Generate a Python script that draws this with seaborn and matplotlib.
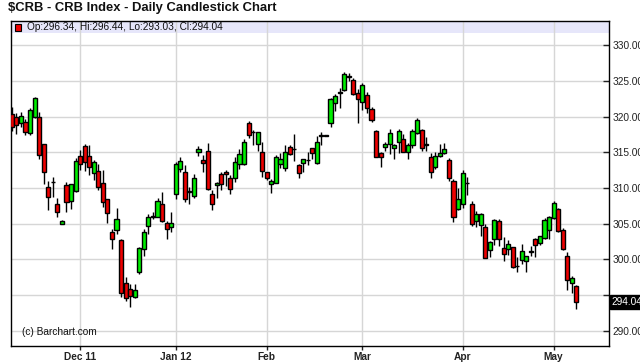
import numpy as np
import pandas as pd
import matplotlib
matplotlib.use("Agg")
import matplotlib.pyplot as plt
import seaborn as sns
from matplotlib.patches import Rectangle

# ---------------- data ----------------
holidays = ["2011-11-24", "2011-12-26", "2012-01-02", "2012-01-16", "2012-04-06"]
dates = pd.bdate_range("2011-11-09", "2012-05-08")
dates = dates[~dates.isin(pd.to_datetime(holidays))]

opens = [320.4, 320.0, 319.1, 319.2, 317.7, 319.9, 320.0, 316.1, 310.2, 310.85,
         307.7, 305.0, 310.4, 308.2, 309.6, 314.45, 315.9, 314.45, 312.1, 312.45,
         310.75, 308.4, 303.8, 304.15, 302.7, 296.7, 295.85, 294.7, 298.2, 301.5,
         304.75, 306.0, 306.0, 307.8, 305.05, 304.6, 309.1, 312.7, 312.2, 309.5,
         308.9, 315.1, 313.9, 315.15, 309.2, 310.4, 311.9, 312.25, 311.45, 311.45,
         313.3, 313.3, 319.05, 317.85, 316.1, 315.1, 312.25, 310.5, 310.75, 313.3,
         312.75, 315.8, 315.4, 313.2, 313.5, 313.9, 315.55, 313.5, 317.35, 317.35,
         319.05, 321.9, 323.35, 323.7, 325.7, 325.1, 323.3, 322.0, 323.05, 321.0,
         318.0, 314.85, 315.7, 316.1, 315.55, 316.4, 316.8, 315.0, 316.0, 317.65,
         318.1, 316.05, 314.35, 312.95, 314.5, 314.85, 313.9, 310.95, 307.0, 307.8,
         310.65, 307.8, 305.45, 304.85, 304.6, 301.35, 302.85, 305.45, 301.65, 301.5,
         301.7, 299.1, 299.9, 299.8, 301.1, 302.85, 302.25, 303.05, 304.15, 305.85,
         307.0, 304.15, 300.45, 296.7, 296.34]
highs = [321.4, 320.5, 320.6, 319.6, 321.2, 322.8, 320.7, 316.2, 311.0, 311.55,
         308.65, 305.5, 310.85, 310.6, 314.2, 315.3, 316.15, 316.0, 313.9, 313.3,
         312.5, 308.5, 304.3, 307.2, 302.9, 297.5, 296.6, 296.5, 301.7, 304.3,
         306.3, 306.6, 308.65, 309.45, 305.45, 306.7, 313.65, 314.35, 313.2, 310.15,
         312.0, 315.9, 314.6, 316.25, 309.7, 310.85, 312.25, 312.5, 311.8, 314.35,
         315.4, 316.85, 319.4, 318.1, 317.85, 316.4, 312.3, 311.3, 314.6, 314.85,
         316.0, 316.0, 317.5, 313.3, 314.0, 315.0, 315.6, 317.25, 317.9, 317.45,
         322.6, 323.1, 324.0, 326.2, 326.1, 325.4, 323.9, 324.75, 323.5, 321.4,
         318.1, 315.05, 316.45, 318.2, 316.2, 318.25, 317.55, 316.25, 318.2, 319.85,
         318.2, 317.2, 314.9, 315.05, 316.1, 316.25, 314.15, 311.2, 310.0, 312.5,
         311.55, 308.25, 306.85, 306.45, 305.0, 302.65, 305.7, 305.7, 303.1, 302.75,
         301.8, 300.3, 302.2, 300.5, 301.95, 303.0, 303.3, 305.85, 306.15, 308.25,
         307.25, 304.45, 301.0, 297.7, 296.44]
lows = [318.0, 317.5, 318.5, 317.4, 317.4, 319.8, 314.0, 310.6, 306.9, 308.7,
        306.0, 304.9, 306.7, 307.1, 309.4, 312.5, 312.35, 311.8, 311.1, 309.7,
        307.3, 305.15, 301.5, 303.6, 294.7, 294.2, 293.4, 294.6, 297.9, 300.55,
        303.6, 305.7, 305.9, 305.2, 302.9, 303.8, 308.4, 312.25, 308.0, 307.7,
        308.6, 314.5, 312.25, 309.7, 306.9, 308.65, 309.7, 310.25, 309.1, 310.85,
        312.6, 313.2, 317.0, 316.0, 315.2, 311.55, 311.1, 309.3, 310.7, 312.75,
        312.35, 314.6, 313.85, 311.4, 312.25, 313.2, 314.1, 313.3, 316.0, 317.3,
        318.6, 320.8, 321.2, 323.6, 325.0, 323.0, 319.05, 320.9, 320.45, 319.3,
        314.3, 313.0, 315.2, 314.7, 314.1, 314.85, 315.0, 314.1, 315.55, 317.5,
        315.15, 315.2, 311.4, 312.6, 314.3, 314.7, 311.0, 305.3, 306.9, 307.2,
        309.0, 304.75, 304.6, 303.35, 300.2, 300.35, 302.05, 301.85, 299.85, 300.6,
        298.75, 298.2, 299.3, 298.2, 300.55, 300.3, 302.0, 302.9, 302.9, 305.7,
        303.9, 301.3, 295.75, 295.35, 293.03]
closes = [318.5, 318.8, 320.15, 317.9, 320.9, 322.6, 314.6, 312.2, 308.7, 310.9,
          306.6, 305.45, 308.0, 310.5, 313.8, 313.3, 313.6, 313.0, 313.6, 310.1,
          308.0, 306.45, 302.9, 305.7, 295.3, 294.6, 294.9, 295.75, 301.6, 303.9,
          305.9, 306.05, 308.2, 305.45, 304.25, 305.05, 313.4, 313.8, 308.5, 309.55,
          311.35, 315.4, 313.55, 309.9, 307.7, 310.75, 310.5, 311.9, 309.9, 313.65,
          314.75, 316.4, 317.4, 317.9, 317.8, 312.35, 311.45, 310.95, 314.3, 314.1,
          315.0, 314.7, 315.45, 312.1, 314.0, 313.95, 314.95, 316.4, 317.4, 317.4,
          322.45, 322.9, 323.4, 325.95, 325.6, 323.15, 322.45, 324.45, 321.15, 319.5,
          314.35, 314.3, 316.1, 317.65, 316.0, 318.0, 315.1, 316.0, 317.95, 319.5,
          315.55, 316.1, 312.25, 314.45, 314.95, 315.4, 311.45, 305.9, 308.5, 312.15,
          310.7, 305.0, 306.4, 306.4, 300.25, 302.45, 305.55, 302.85, 300.8, 302.1,
          299.0, 299.15, 301.2, 300.45, 301.15, 302.05, 303.25, 305.55, 305.9, 307.9,
          304.05, 301.5, 297.1, 297.4, 294.04]

month_labels = ["Dec 11", "Jan 12", "Feb", "Mar", "Apr", "May"]
price_ticks = [290, 295, 300, 305, 310, 315, 320, 325, 330]
title = "$CRB - CRB Index - Daily Candlestick Chart"
watermark = "(c) Barchart.com"

# ---------------- build frame ----------------
df = pd.DataFrame({"date": dates, "open": opens, "high": highs,
                   "low": lows, "close": closes})
df["pos"] = np.arange(len(df))
df["up"] = df["close"] >= df["open"]
df["bottom"] = df[["open", "close"]].min(axis=1)
df["height"] = (df["close"] - df["open"]).abs().clip(lower=0.04)
month_key = df["date"].dt.to_period("M")
first_idx = df.groupby(month_key)["pos"].min().values[1:]
last = df.iloc[-1]

# ---------------- style ----------------
sns.set_theme(style="white")
plt.rcParams["font.family"] = ["Liberation Sans", "DejaVu Sans"]

W, H = 640, 363
fig = plt.figure(figsize=(W / 100, H / 100), dpi=100)
L, R, T, B = 10.5, 608.5, 20.5, 345.5
ax = fig.add_axes([L / W, 1 - B / H, (R - L) / W, (B - T) / H])

GREEN = "#00ee00"
RED = "#ee0000"

# wicks
ax.vlines(df["pos"], df["low"], df["high"], color="black", linewidth=1.0, zorder=2)
# bodies
colors = np.where(df["up"], GREEN, RED)
ax.bar(df["pos"], df["height"], bottom=df["bottom"], width=0.9, color=colors,
       edgecolor="black", linewidth=1.0, zorder=3)

ax.set_xlim(-0.29, 131.05)
ax.set_ylim(287.95, 333.45)

# ticks & grid
ax.set_axisbelow(True)
ax.set_xticks(first_idx)
ax.set_xticklabels(month_labels, fontweight="bold", fontsize=7.3, color="#222222")
ax.set_yticks(price_ticks)
# the tick label hidden behind the last-price box in the reference is left blank
ylabels = [("" if abs(v - last.close) < 2 else f"{v:.2f}") for v in price_ticks]
ax.set_yticklabels(ylabels, fontsize=7.3, color="#222222")
ax.grid(True, color="#d6d6d6", linewidth=1.0)
ax.yaxis.tick_right()
ax.tick_params(axis="y", direction="in", length=4, width=1, pad=3, colors="#222222",
               right=True, left=False)
ax.tick_params(axis="x", direction="out", length=3, width=1, pad=1.5, bottom=True,
               colors="#222222")
for s in ax.spines.values():
    s.set_color("black")
    s.set_linewidth(1.0)

# info strip at top of plot
strip_h = (33 - T) / (B - T)
ax.add_patch(Rectangle((0, 1 - strip_h), 1, strip_h, transform=ax.transAxes,
                       facecolor="#e6e6fa", edgecolor="none", zorder=0.2))
fig.patches.append(Rectangle((15 / W, 1 - 30.5 / H), 6 / W, 6 / H,
                             transform=fig.transFigure, facecolor=RED,
                             edgecolor="black", linewidth=0.8))
fig.text(27 / W, 1 - 27.3 / H,
         f"Op:{last.open:.2f}, Hi:{last.high:.2f}, Lo:{last.low:.2f}, Cl:{last.close:.2f}",
         fontsize=7.3, va="center", ha="left", color="#111111")

# title
fig.text(8 / W, 1 - 8.5 / H, title, fontsize=9.4, fontweight="bold", va="center",
         ha="left", color="#111111")

# watermark
fig.text(22 / W, 1 - 332 / H, watermark, fontsize=7.3, va="center", ha="left",
         color="#111111")

# last price box
ax.annotate(f"{last.close:.2f}", xy=(1, last.close), xycoords=("axes fraction", "data"),
            xytext=(2, 0), textcoords="offset points", fontsize=7.3, color="white",
            va="center", ha="left",
            bbox=dict(boxstyle="square,pad=0.15", facecolor="black", edgecolor="black"),
            annotation_clip=False, zorder=10)

fig.savefig("out.png", dpi=100)
